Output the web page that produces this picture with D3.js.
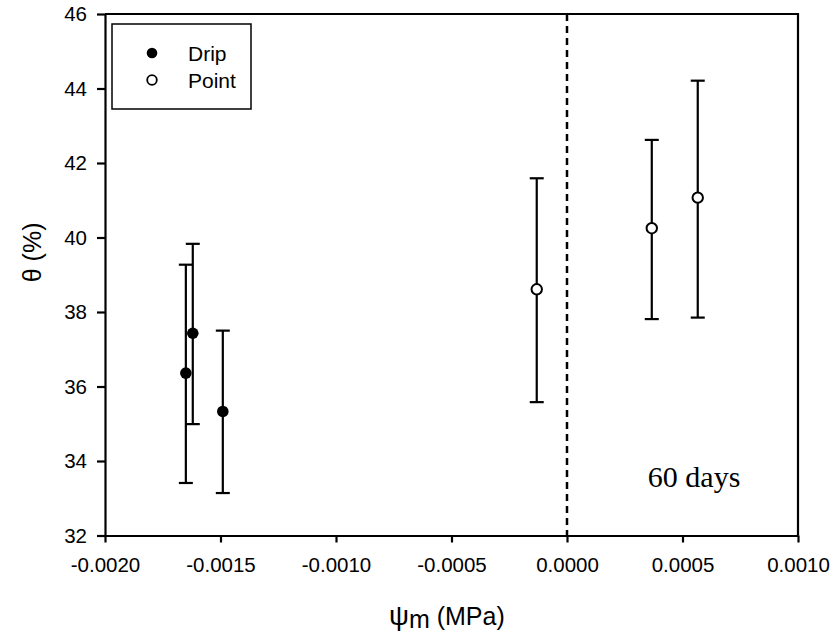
<!DOCTYPE html>
<html>
<head>
<meta charset="utf-8">
<script src="https://cdn.jsdelivr.net/npm/d3@7"></script>
<style>
  body { margin: 0; background: #fff; }
  svg { display: block; }
  .axis path, .axis line { stroke: #000; stroke-width: 2.2; }
  .axis text { font-family: "Liberation Sans", Arial, sans-serif; font-size: 20.5px; fill: #000; }
</style>
</head>
<body>
<svg id="chart"></svg>
<script>
// values
const dripX = [-0.00165, -0.00162, -0.00149]
const dripY = [36.36, 37.43, 35.33]
const dripLo = [33.41, 34.99, 33.14]
const dripHi = [39.27, 39.83, 37.50]

const pointX = [-0.000131, 0.000367, 0.000566]
const pointY = [38.61, 40.25, 41.07]
const pointLo = [35.58, 37.81, 37.85]
const pointHi = [41.59, 42.62, 44.21]

const xTicks = [-0.0020, -0.0015, -0.0010, -0.0005, 0.0000, 0.0005, 0.0010]
const yTicks = [32, 34, 36, 38, 40, 42, 44, 46]
const seriesNames = ['Drip', 'Point']
const refLineX = 0

class ErrorPlot {

    constructor(_config) {
        this.config = {
            parentElement: _config.parentElement,
            containerWidth: _config.containerWidth || 833,
            containerHeight: _config.containerHeight || 638,
            margin: { top: 14, right: 35, bottom: 102.5, left: 105 }
        }

        this.series = [
            { name: seriesNames[0], filled: true, rows: dripX.map((x, i) => ({ x, y: dripY[i], lo: dripLo[i], hi: dripHi[i] })) },
            { name: seriesNames[1], filled: false, rows: pointX.map((x, i) => ({ x, y: pointY[i], lo: pointLo[i], hi: pointHi[i] })) }
        ]

        this.initVis()
    }

    initVis() {
        let vis = this

        vis.width = vis.config.containerWidth - vis.config.margin.left - vis.config.margin.right
        vis.height = vis.config.containerHeight - vis.config.margin.top - vis.config.margin.bottom

        vis.svg = d3.select(vis.config.parentElement)
            .attr('width', vis.config.containerWidth)
            .attr('height', vis.config.containerHeight)

        vis.chart = vis.svg.append('g')
            .attr('transform', `translate(${vis.config.margin.left}, ${vis.config.margin.top})`)

        vis.xScale = d3.scaleLinear()
            .domain([xTicks[0], xTicks[xTicks.length - 1]])
            .range([0, vis.width])

        vis.yScale = d3.scaleLinear()
            .domain([yTicks[0], yTicks[yTicks.length - 1]])
            .range([vis.height, 0])

        vis.xAxis = d3.axisBottom(vis.xScale)
            .tickValues(xTicks)
            .tickFormat(d3.format('.4f'))
            .tickSize(7)
            .tickPadding(15)
            .tickSizeOuter(0)

        vis.yAxis = d3.axisLeft(vis.yScale)
            .tickValues(yTicks)
            .tickFormat(d3.format('d'))
            .tickSize(8)
            .tickPadding(10)
            .tickSizeOuter(0)

        vis.xAxisGroup = vis.chart.append('g')
            .attr('class', 'axis x-axis')
            .attr('transform', `translate(0, ${vis.height})`)

        vis.yAxisGroup = vis.chart.append('g')
            .attr('class', 'axis y-axis')

        // top and right frame
        vis.chart.append('path')
            .attr('d', `M0,0H${vis.width}V${vis.height}`)
            .attr('fill', 'none')
            .attr('stroke', '#000')
            .attr('stroke-width', 2.2)

        vis.chart.append('line')
            .attr('x1', vis.xScale(refLineX))
            .attr('x2', vis.xScale(refLineX))
            .attr('y1', 0)
            .attr('y2', vis.height)
            .attr('stroke', '#000')
            .attr('stroke-width', 2.5)
            .attr('stroke-dasharray', '7,5')

        vis.renderVis()
    }

    renderVis() {
        let vis = this
        const cap = 7

        vis.xAxisGroup.call(vis.xAxis)
        vis.yAxisGroup.call(vis.yAxis)
        vis.xAxisGroup.selectAll('text').text(d => d3.format('.4f')(d).replace('−', '-'))

        const groups = vis.chart.selectAll('.series')
            .data(vis.series)
            .join('g')
                .attr('class', 'series')

        const bars = groups.selectAll('.err')
            .data(d => d.rows)
            .join('g')
                .attr('class', 'err')
                .attr('stroke', '#000')
                .attr('stroke-width', 2.2)

        bars.append('line')
            .attr('x1', d => vis.xScale(d.x))
            .attr('x2', d => vis.xScale(d.x))
            .attr('y1', d => vis.yScale(d.lo))
            .attr('y2', d => vis.yScale(d.hi))

        bars.append('line')
            .attr('x1', d => vis.xScale(d.x) - cap)
            .attr('x2', d => vis.xScale(d.x) + cap)
            .attr('y1', d => vis.yScale(d.hi))
            .attr('y2', d => vis.yScale(d.hi))

        bars.append('line')
            .attr('x1', d => vis.xScale(d.x) - cap)
            .attr('x2', d => vis.xScale(d.x) + cap)
            .attr('y1', d => vis.yScale(d.lo))
            .attr('y2', d => vis.yScale(d.lo))

        groups.each(function(s) {
            d3.select(this).selectAll('.dot')
                .data(s.rows)
                .join('circle')
                    .attr('class', 'dot')
                    .attr('cx', d => vis.xScale(d.x))
                    .attr('cy', d => vis.yScale(d.y))
                    .attr('r', s.filled ? 5.8 : 5.2)
                    .attr('fill', s.filled ? '#000' : '#fff')
                    .attr('stroke', '#000')
                    .attr('stroke-width', s.filled ? 0 : 2)
        })

        // legend
        const legend = vis.svg.append('g')
        legend.append('rect')
            .attr('x', 112).attr('y', 24)
            .attr('width', 139).attr('height', 85)
            .attr('fill', '#fff')
            .attr('stroke', '#000')
            .attr('stroke-width', 1.5)

        const items = legend.selectAll('.item')
            .data(vis.series)
            .join('g')
                .attr('class', 'item')
                .attr('transform', (d, i) => `translate(152, ${53 + i * 27})`)

        items.append('circle')
            .attr('r', d => d.filled ? 5.3 : 4.8)
            .attr('fill', d => d.filled ? '#000' : '#fff')
            .attr('stroke', '#000')
            .attr('stroke-width', d => d.filled ? 0 : 1.8)

        items.append('text')
            .attr('x', 36)
            .attr('y', 8)
            .style('font-family', '"Liberation Sans", Arial, sans-serif')
            .style('font-size', '21px')
            .text(d => d.name)

        // axis titles
        vis.svg.append('text')
            .attr('transform', `translate(41, ${vis.config.margin.top + vis.yScale(39.6)}) rotate(-90)`)
            .attr('text-anchor', 'middle')
            .style('font-family', '"Liberation Sans", Arial, sans-serif')
            .style('font-size', '25px')
            .text('θ (%)')

        const xt = vis.svg.append('text')
            .attr('x', vis.config.margin.left + vis.xScale(-0.00052))
            .attr('y', 625)
            .attr('text-anchor', 'middle')
            .style('font-family', '"Liberation Sans", Arial, sans-serif')
            .style('font-size', '25px')
        xt.append('tspan').style('font-size', '28px').text('ψ')
        xt.append('tspan').attr('dy', 3).text('m')
        xt.append('tspan').attr('dy', -3).text(' (MPa)')

        vis.chart.append('text')
            .attr('x', vis.xScale(0.00035))
            .attr('y', vis.yScale(33.3))
            .style('font-family', '"Liberation Serif", "Times New Roman", serif')
            .style('font-size', '30px')
            .text('60 days')
    }
}

new ErrorPlot({ parentElement: '#chart', containerWidth: 833, containerHeight: 638 })
</script>
</body>
</html>
